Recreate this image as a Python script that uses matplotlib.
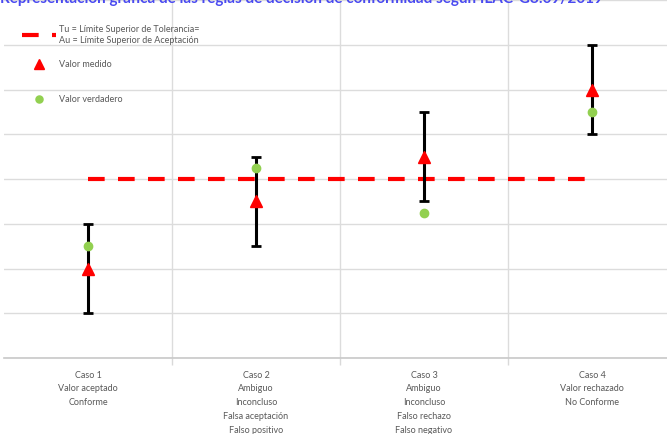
import numpy as np
import matplotlib.pyplot as plt

# datos
casos = ["Caso 1\nValor aceptado\nConforme",
         "Caso 2\nAmbiguo\nInconcluso\nFalsa aceptación\nFalso positivo",
         "Caso 3\nAmbiguo\nInconcluso\nFalso rechazo\nFalso negativo",
         "Caso 4\nValor rechazado\nNo Conforme"]
valor_medido = [2.0, 3.5, 4.5, 6.0]
incertidumbre = [1.0, 1.0, 1.0, 1.0]
valor_verdadero = [2.5, 4.25, 3.25, 5.5]
limite = [4.0, 4.0, 4.0, 4.0]

plt.rcParams['font.family'] = ['Lato', 'DejaVu Sans']

fig = plt.figure(figsize=(6.67, 4.34), dpi=100)
ax = fig.add_axes([4/667, 76/434, 672/667, 358/434])

x = np.arange(len(casos))

l_lim, = ax.plot(x, limite, color='#ff0000', lw=3, dashes=(4, 3.2),
                 label='Tu = Límite Superior de Tolerancia=\nAu = Límite Superior de Aceptación', zorder=2)
ax.errorbar(x, valor_medido, yerr=incertidumbre, fmt='none', ecolor='black',
            elinewidth=2.2, capsize=3.3, capthick=2, zorder=3)
l_med, = ax.plot(x, valor_medido, ls='none', marker='^', ms=9, color='#ff0000',
                 label='Valor medido', zorder=4)
l_ver, = ax.plot(x, valor_verdadero, ls='none', marker='o', ms=6, color='#92d050',
                 label='Valor verdadero', zorder=5)

ax.set_xlim(-0.5, 3.5)
ax.set_ylim(0, 8)
ax.set_yticks(np.arange(0, 9))
ax.set_yticklabels([])
ax.tick_params(axis='y', length=0)
ax.grid(axis='y', color='#dcdcdc', lw=1)

ax.set_xticks(x)
ax.set_xticklabels(casos, fontsize=6.5, color='#595959', linespacing=1.68, va='top')
ax.tick_params(axis='x', which='major', length=0, pad=9)
ax.set_xticks([0.5, 1.5, 2.5], minor=True)
ax.tick_params(axis='x', which='minor', length=5, color='#d9d9d9', width=1)
ax.grid(axis='x', which='minor', color='#dcdcdc', lw=1)

for s in ['top', 'right', 'left']:
    ax.spines[s].set_visible(False)
ax.spines['bottom'].set_color('#c8c8c8')
ax.spines['bottom'].set_linewidth(1.2)

# leyenda en dos bloques para respetar el espaciado
leg1 = ax.legend(handles=[l_lim, l_med], loc='upper left',
                 bbox_to_anchor=(14/667, 1 - 17/434), bbox_transform=fig.transFigure,
                 frameon=False, fontsize=6.5, labelcolor='#595959', handlelength=3.8,
                 handletextpad=0.3, labelspacing=1.7, markerscale=0.85)
ax.add_artist(leg1)
ax.legend(handles=[l_ver], loc='upper left',
          bbox_to_anchor=(14/667, 1 - 87/434), bbox_transform=fig.transFigure,
          frameon=False, fontsize=6.5, labelcolor='#595959', handlelength=3.8,
          handletextpad=0.3, markerscale=0.85)

# titulo (cortado en el borde superior, como en la imagen original)
fig.text(0.0, 1 - 3/434, "Representación gráfica de las reglas de decisión de conformidad según ILAC-G8:09/2019",
         fontsize=11, fontweight='bold', color='#4a4af0', va='baseline', ha='left')

fig.savefig('out.png', dpi=100)
